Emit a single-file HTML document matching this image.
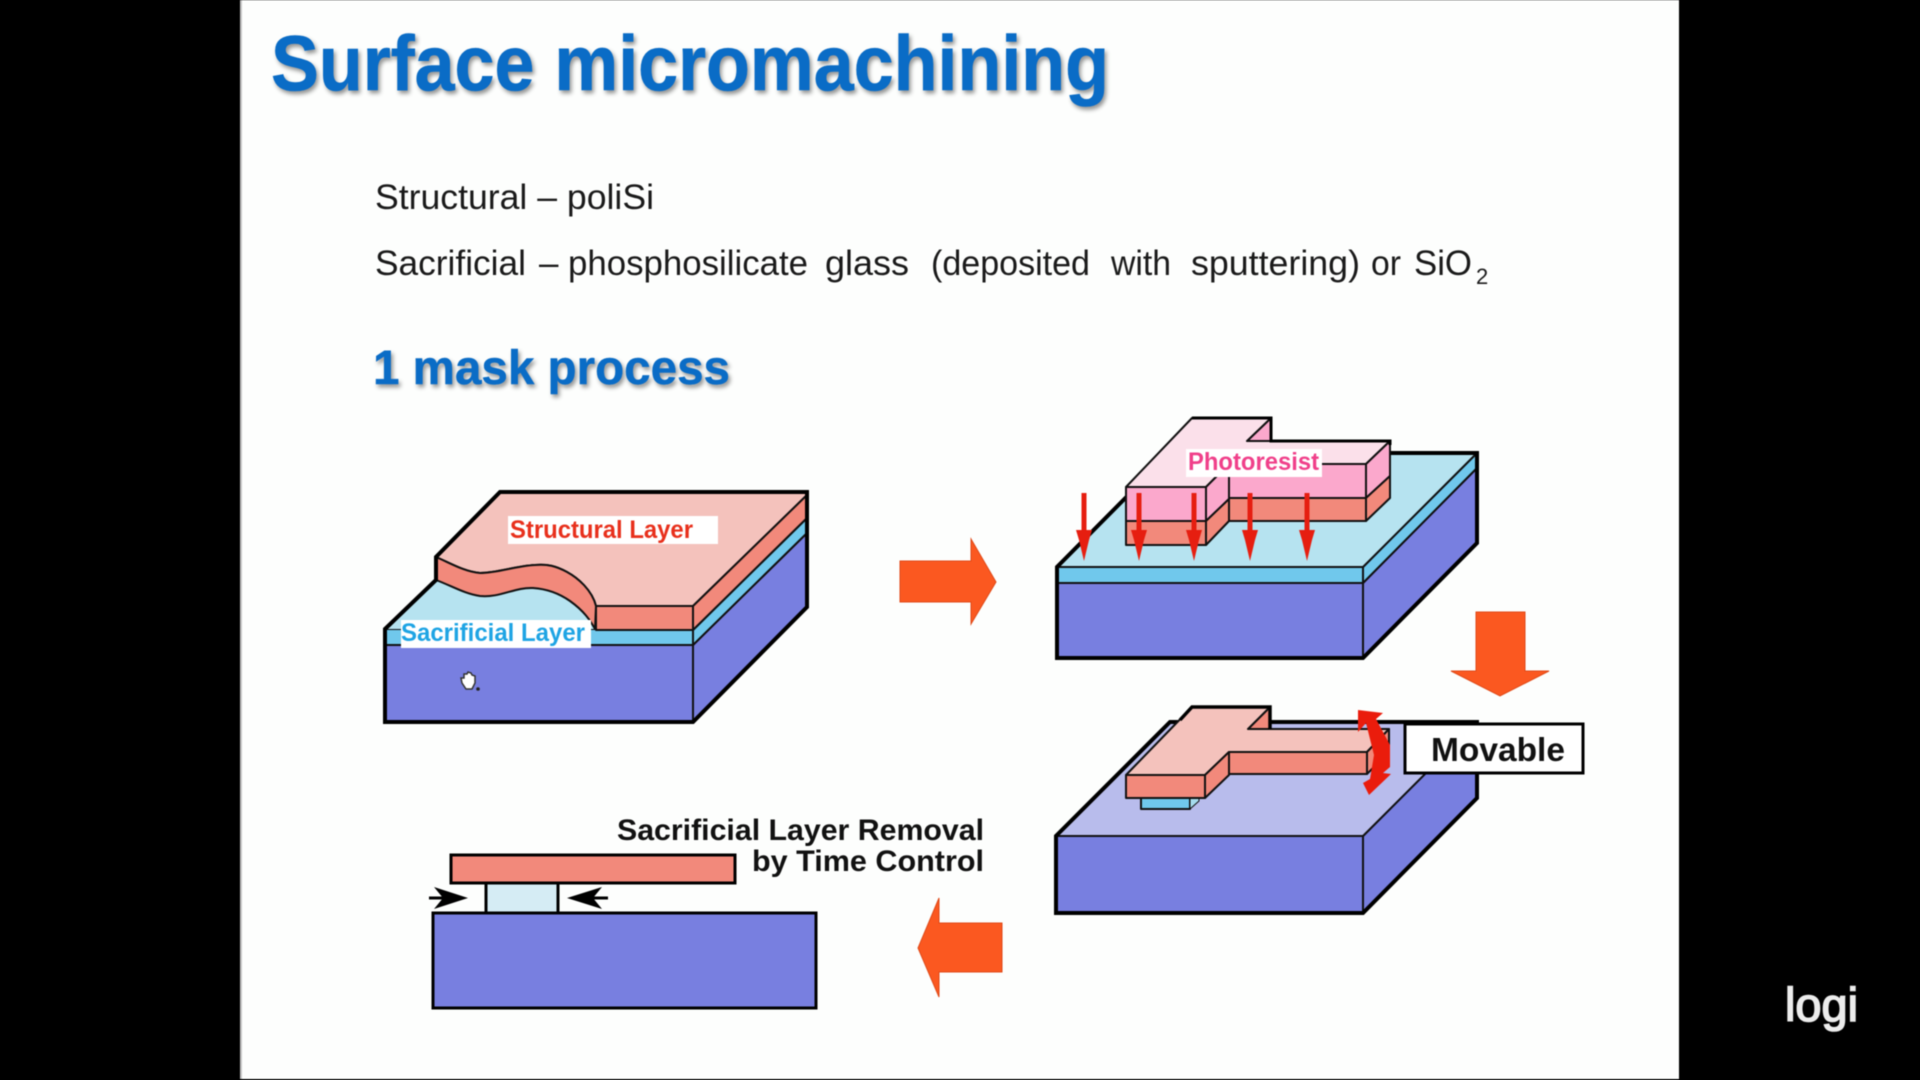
<!DOCTYPE html>
<html lang="en"><head><meta charset="utf-8"><title>Surface micromachining</title>
<style>
html,body{margin:0;padding:0;background:#000;width:1920px;height:1080px;overflow:hidden}
svg{display:block;filter:blur(.55px)}
text{font-family:"Liberation Sans",Arial,sans-serif}
.b{font-weight:bold}
.hd{font-weight:bold;fill:#0a6cc6;filter:drop-shadow(2px 3px 2px rgba(0,0,0,.42))}
.body{font-size:35px;fill:#1a1a1a}
.o{stroke:#111;stroke-width:2;stroke-linejoin:round}
.k{fill:none;stroke:#000;stroke-width:4;stroke-linejoin:miter}
</style></head><body>
<svg width="1920" height="1080" viewBox="0 0 1920 1080" xmlns="http://www.w3.org/2000/svg">
<rect width="1920" height="1080" fill="#000"/>
<rect x="240" y="0" width="1439" height="1079" fill="#fdfefd"/>
<rect x="240" y="0" width="2" height="1079" fill="#c4c4c4"/>

<text class="hd" x="271" y="90" font-size="78" stroke="#0a6cc6" stroke-width=".6" textLength="838" lengthAdjust="spacingAndGlyphs">Surface micromachining</text>
<text class="body" x="375" y="209" textLength="279" lengthAdjust="spacingAndGlyphs">Structural – poliSi</text>
<text class="body" x="375" y="275" textLength="151" lengthAdjust="spacingAndGlyphs">Sacrificial</text>
<text class="body" x="539" y="275">–</text>
<text class="body" x="568" y="275" textLength="240" lengthAdjust="spacingAndGlyphs">phosphosilicate</text>
<text class="body" x="825" y="275" textLength="84" lengthAdjust="spacingAndGlyphs">glass</text>
<text class="body" x="931" y="275" textLength="159" lengthAdjust="spacingAndGlyphs">(deposited</text>
<text class="body" x="1111" y="275" textLength="60" lengthAdjust="spacingAndGlyphs">with</text>
<text class="body" x="1191" y="275" textLength="169" lengthAdjust="spacingAndGlyphs">sputtering)</text>
<text class="body" x="1371" y="275" textLength="30" lengthAdjust="spacingAndGlyphs">or</text>
<text class="body" x="1414" y="275" textLength="58" lengthAdjust="spacingAndGlyphs">SiO</text>
<text x="1476" y="284" font-size="22" fill="#1a1a1a">2</text>
<text class="hd" x="373" y="384" font-size="48" stroke="#0a6cc6" stroke-width=".4" textLength="357" lengthAdjust="spacingAndGlyphs">1 mask process</text>

<!-- Diagram 1 -->
<g class="o">
<rect x="385" y="645" width="308" height="77" fill="#787fe0"/>
<polygon points="693,645 807,533 807,607 693,722" fill="#787fe0"/>
<rect x="385" y="629" width="308" height="16" fill="#70c8ec"/>
<polygon points="693,630 807,518 807,533 693,645" fill="#70c8ec"/>
<polygon points="385,629 436,580 595,629" fill="#b6e3f0" stroke="none"/>
<path d="M436,580 C452,586 465,594 480,596 C500,598 515,587 533,588 C548,589 560,594 570,601 C584,611 590,620 595,629 L436,629 L385,629 Z" fill="#b6e3f0" stroke="none"/>
<path d="M500,492 L807,492 L807,495 L693,606 L596,606 C592,590 578,578 567,572 C556,566 548,564 535,565 C515,566 498,573 480,573 C465,572 450,563 436,557 Z" fill="#f4c2bc"/>
<path d="M436,557 C450,563 465,572 480,573 C498,573 515,566 535,565 C548,564 556,566 567,572 C578,578 592,590 596,606 L595,629 C590,620 584,611 570,601 C560,594 548,589 533,588 C515,587 500,598 480,596 C465,594 452,586 436,580 Z" fill="#f2897b"/>
<rect x="596" y="606" width="97" height="24" fill="#f2897b"/>
<polygon points="693,606 807,495 807,518 693,630" fill="#f2897b"/>
</g>
<path class="k" d="M385,722 L385,629 L436,580 L436,557 L500,492 L807,492 L807,607 L693,722 Z"/>
<rect x="508" y="516" width="210" height="28" fill="#fff"/>
<text class="b" x="510" y="538" font-size="25" fill="#e8301c" textLength="183" lengthAdjust="spacingAndGlyphs">Structural Layer</text>
<rect x="401" y="620" width="190" height="28" fill="#fff"/>
<text class="b" x="401" y="641" font-size="25" fill="#1ea4e4" textLength="184" lengthAdjust="spacingAndGlyphs">Sacrificial Layer</text>
<!-- cursor -->
<g>
<path d="M462,683 L461,678 L464,678 L464,674 L467,674 L468,672 L471,673 L472,675 L475,676 L475,683 L472,689 L466,689 Z" fill="#fff" stroke="#333" stroke-width="1.5"/>
<circle cx="478" cy="689" r="1.8" fill="#222"/>
</g>

<!-- Arrow right -->
<polygon points="900,561 971,561 971,539 996,582 971,624 971,602 900,602" fill="#fb5820" stroke="#e04a18"/>

<!-- Diagram 2 -->
<g class="o">
<rect x="1057" y="583" width="306" height="75" fill="#787fe0"/>
<polygon points="1363,583 1477,468 1477,543 1363,658" fill="#787fe0"/>
<rect x="1057" y="567" width="306" height="16" fill="#70c8ec"/>
<polygon points="1363,567 1477,453 1477,468 1363,583" fill="#70c8ec"/>
<polygon points="1057,567 1170,453 1477,453 1363,567" fill="#b6e3f0"/>
</g>
<path class="k" d="M1057,658 L1057,567 L1170,453 L1477,453 L1477,543 L1363,658 Z"/>
<g class="o">
<polygon points="1271,418 1247,441 1271,441" fill="#fba8cc"/>
<polygon points="1126,487 1192,418 1271,418 1247,441 1390,441 1366,464 1229,464 1206,487" fill="#fbe0ea"/>
<rect x="1229" y="464" width="137" height="34" fill="#fba8cc"/>
<rect x="1229" y="498" width="137" height="23" fill="#f2897b"/>
<polygon points="1366,464 1390,441 1390,476 1366,498" fill="#fba8cc"/>
<polygon points="1366,498 1390,476 1390,498 1366,521" fill="#f2897b"/>
<polygon points="1206,487 1229,464 1229,499 1206,521" fill="#fba8cc"/>
<polygon points="1206,521 1229,499 1229,521 1206,545" fill="#f2897b"/>
<rect x="1126" y="487" width="80" height="34" fill="#fba8cc"/>
<rect x="1126" y="521" width="80" height="24" fill="#f2897b"/>
</g>
<path d="M1192,418 L1271,418 L1271,441 L1390,441 L1390,445" fill="none" stroke="#000" stroke-width="3"/>
<rect x="1186" y="449" width="136" height="28" fill="#fff"/>
<text class="b" x="1188" y="470" font-size="25" fill="#f0408a" textLength="131" lengthAdjust="spacingAndGlyphs">Photoresist</text>
<g fill="#e61e10">
<polygon points="1081.5,493 1086.5,493 1086.5,530 1092,530 1089,540 1084,561 1079,540 1076,530 1081.5,530"/>
<polygon points="1136.5,493 1141.5,493 1141.5,530 1147,530 1144,540 1139,561 1134,540 1131,530 1136.5,530"/>
<polygon points="1191.5,493 1196.5,493 1196.5,530 1202,530 1199,540 1194,561 1189,540 1186,530 1191.5,530"/>
<polygon points="1247.5,493 1252.5,493 1252.5,530 1258,530 1255,540 1250,561 1245,540 1242,530 1247.5,530"/>
<polygon points="1304.5,493 1309.5,493 1309.5,530 1315,530 1312,540 1307,561 1302,540 1299,530 1304.5,530"/>
</g>

<!-- Arrow down -->
<polygon points="1476,612 1525,612 1525,671 1549,671 1500,696 1451,671 1476,671" fill="#fb5820" stroke="#e04a18"/>

<!-- Diagram 3 -->
<g class="o">
<rect x="1056" y="836" width="307" height="77" fill="#787fe0"/>
<polygon points="1363,836 1477,722 1477,798 1363,913" fill="#787fe0"/>
<polygon points="1056,836 1170,722 1477,722 1363,836" fill="#b8bcec"/>
</g>
<path class="k" d="M1056,913 L1056,836 L1170,722 L1477,722 L1477,798 L1363,913 Z"/>
<g class="o">
<rect x="1141" y="798" width="49" height="11" fill="#70c8ec"/>
<polygon points="1190,798 1199,798 1199,801 1190,809" fill="#a6dcee" stroke-width="1"/>
<polygon points="1270,707 1248,729 1270,729" fill="#f2897b"/>
<polygon points="1126,775 1192,707 1270,707 1248,729 1389,729 1367,752 1229,752 1205,775" fill="#f4c2bc"/>
<rect x="1229" y="752" width="138" height="22" fill="#f2897b"/>
<polygon points="1367,752 1389,729 1389,752 1367,774" fill="#f2897b"/>
<polygon points="1205,775 1229,752 1229,775 1205,798" fill="#f2897b"/>
<rect x="1126" y="775" width="79" height="23" fill="#f2897b"/>
</g>
<path d="M1180,720 L1192,707 L1270,707 L1270,729" fill="none" stroke="#000" stroke-width="3.5"/>
<polygon points="1358,710 1383,713 1376,719 1390,745 1390,767 1383,773 1391,774 1369,795 1363,783 1370,779 1374,755 1369,735 1366,723 1358,732" fill="#ea1c0c"/>
<rect x="1405" y="724" width="178" height="49" fill="#fff" stroke="#000" stroke-width="3"/>
<text class="b" x="1431" y="761" font-size="33" fill="#111" textLength="134" lengthAdjust="spacingAndGlyphs">Movable</text>

<!-- Arrow left -->
<polygon points="1002,923 939,923 939,898 918,948 939,997 939,972 1002,972" fill="#fb5820" stroke="#e04a18"/>

<!-- Diagram 4 -->
<text class="b" x="984" y="840" font-size="30" fill="#111" text-anchor="end" textLength="367" lengthAdjust="spacingAndGlyphs">Sacrificial Layer Removal</text>
<text class="b" x="984" y="871" font-size="30" fill="#111" text-anchor="end" textLength="232" lengthAdjust="spacingAndGlyphs">by Time Control</text>
<rect x="486" y="883" width="72" height="30" fill="#d5ecf4" stroke="#000" stroke-width="3"/>
<rect x="451" y="855" width="284" height="28" fill="#f2897b" stroke="#000" stroke-width="3"/>
<rect x="433" y="913" width="383" height="95" fill="#787fe0" stroke="#000" stroke-width="3"/>
<path d="M429,898 H450" stroke="#000" stroke-width="3"/>
<polygon points="468,898 434,887 443,898 434,909"/>
<path d="M608,898 H587" stroke="#000" stroke-width="3"/>
<polygon points="567,898 602,887 593,898 602,909"/>

<!-- logi -->
<text x="1785" y="1021" font-size="47" fill="#ececec" stroke="#ececec" stroke-width="1.6" textLength="73" lengthAdjust="spacingAndGlyphs">logi</text>
</svg>
</body></html>
